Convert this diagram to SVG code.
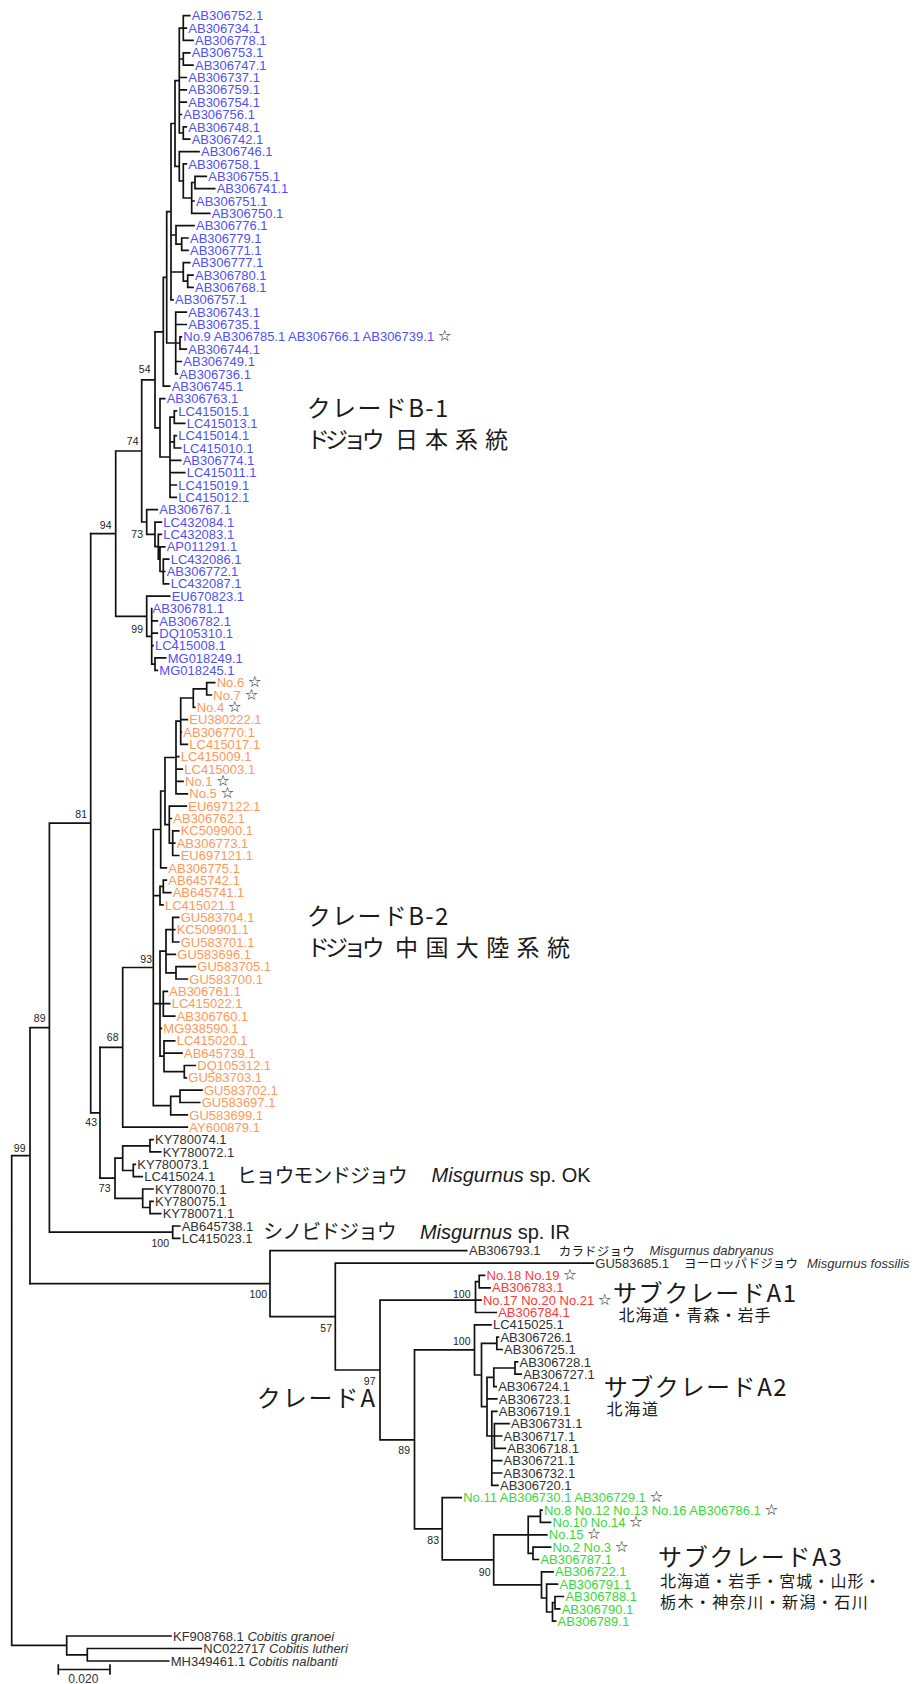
<svg xmlns="http://www.w3.org/2000/svg" width="921" height="1684" viewBox="0 0 921 1684">
<style>
.t{font-family:"Liberation Sans",Arial,sans-serif;font-size:13px}
.b{fill:#5050f5}.o{fill:#ff9858}.r{fill:#ff3838}.g{fill:#38d838}.k{fill:#303030}
.st{font-family:"DejaVu Sans",sans-serif;fill:#222;font-size:15.5px}
.i{font-style:italic}
.bs{font-family:"Liberation Sans",Arial,sans-serif;font-size:10.5px;fill:#222;text-anchor:end}
.j{font-family:"Noto Sans CJK JP","Noto Sans CJK SC",sans-serif;fill:#1a1a1a}
.big{font-family:"Liberation Sans",Arial,sans-serif;font-size:20px;fill:#1a1a1a}
.sc{font-family:"Liberation Sans",Arial,sans-serif;font-size:12px;fill:#303030;text-anchor:middle}
.ln{fill:none;stroke:#111;stroke-width:1.7;stroke-linecap:square}
</style>
<rect width="921" height="1684" fill="#fff"/>
<g id="connectors" class="ln">
<path id="backbone" d="M11.7 1155.7V1645.4M11.7 1645.4H66.7M66.7 1636V1654.8M66.7 1636H171M66.7 1654.8H87.3M87.3 1648.5V1661M87.3 1648.5H201.3M87.3 1661H168.7M11.7 1155.7H30M30 1027.7V1283.7M30 1027.7H49.4M49.4 823.2V1232.2M49.4 1232.2H172.7M172.7 1226V1238.4M172.7 1226H179.7M172.7 1238.4H179.7M49.4 823.2H90.7M90.7 533.7V1112.8M90.7 1112.8H100M100 1047.3V1178.2"/>
<path id="ky" d="M100 1178.2H115M115 1158.2V1198.3M115 1158.2H122.7M122.7 1145.8V1170.5M122.7 1145.8H150M150 1139.6V1151.9M150 1139.6H153M150 1151.9H160.7M122.7 1170.5H133.3M133.3 1164.3V1176.6M133.3 1164.3H135.3M133.3 1176.6H142.3M115 1198.3H142.7M142.7 1189V1207.5M142.7 1189H153M142.7 1207.5H150M150 1201.3V1213.7M150 1201.3H153M150 1213.7H160.7"/>
<path id="b2" d="M100 1047.3H122.7M122.7 967.5V1127.2M122.7 1127.2H187.3M122.7 967.5H153.3M153.3 829.5V1105.6M153.3 829.5H160.7M160.7 791V867.9M160.7 867.9H166.3M160.7 791H165M165 757.5V824.6M165 757.5H176M176 721.2V793.8M176 756.7H178.7M176 769.1H182.3M176 781.4H183M176 793.8H187.3M176 721.2H180.7M180.7 698V744.4M180.7 719.7H187.3M180.7 732H181.3M180.7 744.4H187.3M180.7 698H193.3M193.3 688.8V707.3M193.3 707.3H194.7M193.3 688.8H206.7M206.7 682.6V695M206.7 682.6H214.7M206.7 695H211.3M165 824.6H169.3M169.3 806.1V843.2M169.3 806.1H186.3M169.3 818.5H171.3M169.3 843.2H172.7M172.7 830.8V855.5M172.7 830.8H178.7M172.7 843.2H174.7M172.7 855.5H178.7M153.3 895.6H160M160 886.4V904.9M160 904.9H163M160 886.4H163.3M163.3 880.2V892.6M163.3 880.2H166.3M163.3 892.6H170.7M153.3 1003.7H160M160 951.2V1056.2M160 951.2H166M166 929.6V972.8M166 954.3H175.3M166 929.6H172.7M172.7 917.3V942M172.7 917.3H178.7M172.7 929.6H174.7M172.7 942H178.7M166 972.8H176M176 966.7V979M176 966.7H195.3M176 979H187.3M160 1003.7H163.3M163.3 991.4V1016.1M163.3 991.4H167.3M163.3 1003.7H169.7M163.3 1016.1H174.7M160 1028.4H161.3M160 1056.2H164M164 1040.8V1071.7M164 1040.8H174.7M164 1053.1H182M164 1071.7H184.3M184.3 1065.5V1077.8M184.3 1065.5H195.3M184.3 1077.8H186.3M153.3 1105.6H170.7M170.7 1096.4V1114.9M170.7 1114.9H187.3M170.7 1096.4H180M180 1090.2V1102.5M180 1090.2H202M180 1102.5H199.7"/>
<path id="b1" d="M90.7 533.7H115.7M115.7 451V616.3M115.7 451H141.7M141.7 379.8V522M141.7 379.8H155M155 331.8V427.8M155 331.8H163.3M163.3 277.4V386.2M163.3 386.2H169.7M163.3 277.4H166.7M166.7 211.7V343M166.7 343H175.7M175.7 312.1V373.9M175.7 312.1H186.3M175.7 324.5H186.3M175.7 361.5H181.3M175.7 373.9H177.3M175.7 343H180M180 336.8V349.2M180 336.8H181.3M180 349.2H186.3M166.7 211.7H171M171 123.5V299.8M171 299.8H173M171 235H176M176 225.7V244.2M176 225.7H194M176 244.2H181.7M181.7 238V250.4M181.7 238H188M181.7 250.4H188M171 272H183.3M183.3 262.7V281.2M183.3 262.7H189.7M183.3 281.2H187.7M187.7 275.1V287.4M187.7 275.1H193M187.7 287.4H193M171 123.5H175M175 80.6V166.3M175 80.6H179.3M179.3 28.1V133M179.3 77.5H186.3M179.3 89.8H186.3M179.3 102.2H186.3M179.3 114.5H181.3M179.3 28.1H183.3M183.3 15.7V40.4M183.3 15.7H189.7M183.3 28.1H186.3M183.3 40.4H193M179.3 59H183.3M183.3 52.8V65.1M183.3 52.8H189.7M183.3 65.1H193M179.3 133H183.3M183.3 126.9V139.2M183.3 126.9H186.3M183.3 139.2H189.7M175 166.3H179.3M179.3 151.6V181M179.3 151.6H199M179.3 181H183.3M183.3 163.9V198M183.3 163.9H186.3M183.3 198H191.7M191.7 182.5V213.3M191.7 201H194M191.7 213.3H209.7M191.7 182.5H195M195 176.3V188.6M195 176.3H206.3M195 188.6H214.7M155 427.8H160M160 398.6V457M160 398.6H164.7M160 457H170M170 417.1V497.4M170 460.3H180.7M170 472.7H184.7M170 485H176.3M170 497.4H176.3M170 417.1H174.3M174.3 410.9V423.3M174.3 410.9H176.3M174.3 423.3H184.7M170 441.8H174.3M174.3 435.6V448M174.3 435.6H176.3M174.3 448H180.7M141.7 522H146.7M146.7 509.7V534.4M146.7 509.7H157.3M146.7 534.4H155M155 522.1V546.7M155 522.1H161.3M155 546.7H158.3M158.3 534.4V559.1M158.3 534.4H161.3M158.3 559.1H160M160 546.8V571.5M160 546.8H164.7M160 571.5H164.7M163.3 559.1V583.8M163.3 559.1H168.7M163.3 583.8H168.7M115.7 616.3H146.7M146.7 596.2V636.3M146.7 596.2H169.7M146.7 636.3H151.7M151.7 608.5V664.1M151.7 620.9H157.3M151.7 633.2H157.3M151.7 645.6H153M151.7 664.1H155M155 657.9V670.3M155 657.9H165.7M155 670.3H157.3"/>
<path id="cladeA" d="M30 1283.7H270M270 1250.7V1316.6M270 1250.7H466.7M270 1316.6H335.3M335.3 1263.1V1370M335.3 1263.1H593.3M335.3 1370H380M380 1300.1V1439.8M380 1300.1H475.5M475.5 1281.6V1312.5M475.5 1300.1H481M475.5 1312.5H496.2M475.5 1281.6H479.2M479.2 1275.4V1287.8M479.2 1275.4H484.5M479.2 1287.8H490M380 1439.8H414.5M414.5 1349.9V1528.8M414.5 1349.9H474.5M474.5 1324.8V1375M474.5 1324.8H491M474.5 1375H481.5M481.5 1343.4V1406.7M481.5 1343.4H496.8M496.8 1337.2V1349.5M496.8 1337.2H498.4M496.8 1349.5H502.1M481.5 1406.7H487M487 1377.3V1436M487 1398.9H496.8M487 1377.3H493.8M493.8 1368V1386.6M493.8 1386.6H496.2M493.8 1368H515M515 1361.9V1374.2M515 1361.9H517.5M515 1374.2H521.2M487 1436H491.8M491.8 1411.3V1485.4M491.8 1411.3H496.8M491.8 1460.7H501.6M491.8 1473H501.6M491.8 1485.4H498M491.8 1436H494.4M494.4 1423.6V1448.3M494.4 1423.6H509M494.4 1436H501.6M494.4 1448.3H505.3M414.5 1528.8H442.2M442.2 1497.7V1559.9M442.2 1497.7H461.2M442.2 1559.9H493.7M493.7 1534.8V1584.9M493.7 1534.8H528.2M528.2 1516.3V1553.3M528.2 1534.8H546.8M528.2 1516.3H540.4M540.4 1510.1V1522.4M540.4 1510.1H542M540.4 1522.4H550.5M528.2 1553.3H533M533 1547.1V1559.5M533 1547.1H550.5M533 1559.5H538.4M493.7 1584.9H541.5M541.5 1571.8V1598M541.5 1571.8H553M541.5 1598H546.6M546.6 1584.2V1612M546.6 1584.2H557.5M546.6 1612H552.5M552.5 1602.7V1621.2M552.5 1621.2H555.6M552.5 1602.7H555M555 1596.5V1608.9M555 1596.5H563.4M555 1608.9H559.7"/>
<path id="scalebar" d="M58.3 1669.5H110M58.3 1665V1674M110 1665V1674"/>
</g>
<g id="leaves" class="t">
<g id="L0"><text class="b" x="191.7" y="20.3">AB306752.1</text></g>
<g id="L1"><text class="b" x="188.3" y="32.7">AB306734.1</text></g>
<g id="L2"><text class="b" x="195" y="45">AB306778.1</text></g>
<g id="L3"><text class="b" x="191.7" y="57.4">AB306753.1</text></g>
<g id="L4"><text class="b" x="195" y="69.7">AB306747.1</text></g>
<g id="L5"><text class="b" x="188.3" y="82.1">AB306737.1</text></g>
<g id="L6"><text class="b" x="188.3" y="94.4">AB306759.1</text></g>
<g id="L7"><text class="b" x="188.3" y="106.8">AB306754.1</text></g>
<g id="L8"><text class="b" x="183.3" y="119.1">AB306756.1</text></g>
<g id="L9"><text class="b" x="188.3" y="131.5">AB306748.1</text></g>
<g id="L10"><text class="b" x="191.7" y="143.8">AB306742.1</text></g>
<g id="L11"><text class="b" x="201" y="156.2">AB306746.1</text></g>
<g id="L12"><text class="b" x="188.3" y="168.5">AB306758.1</text></g>
<g id="L13"><text class="b" x="208.3" y="180.9">AB306755.1</text></g>
<g id="L14"><text class="b" x="216.7" y="193.2">AB306741.1</text></g>
<g id="L15"><text class="b" x="196" y="205.6">AB306751.1</text></g>
<g id="L16"><text class="b" x="211.7" y="217.9">AB306750.1</text></g>
<g id="L17"><text class="b" x="196" y="230.3">AB306776.1</text></g>
<g id="L18"><text class="b" x="190" y="242.6">AB306779.1</text></g>
<g id="L19"><text class="b" x="190" y="255">AB306771.1</text></g>
<g id="L20"><text class="b" x="191.7" y="267.3">AB306777.1</text></g>
<g id="L21"><text class="b" x="195" y="279.7">AB306780.1</text></g>
<g id="L22"><text class="b" x="195" y="292">AB306768.1</text></g>
<g id="L23"><text class="b" x="175" y="304.4">AB306757.1</text></g>
<g id="L24"><text class="b" x="188.3" y="316.7">AB306743.1</text></g>
<g id="L25"><text class="b" x="188.3" y="329.1">AB306735.1</text></g>
<g id="L26"><text class="b" x="183.3" y="341.4">No.9 AB306785.1 AB306766.1 AB306739.1 <tspan class="st">☆</tspan></text></g>
<g id="L27"><text class="b" x="188.3" y="353.8">AB306744.1</text></g>
<g id="L28"><text class="b" x="183.3" y="366.1">AB306749.1</text></g>
<g id="L29"><text class="b" x="179.3" y="378.5">AB306736.1</text></g>
<g id="L30"><text class="b" x="171.7" y="390.8">AB306745.1</text></g>
<g id="L31"><text class="b" x="166.7" y="403.2">AB306763.1</text></g>
<g id="L32"><text class="b" x="178.3" y="415.5">LC415015.1</text></g>
<g id="L33"><text class="b" x="186.7" y="427.9">LC415013.1</text></g>
<g id="L34"><text class="b" x="178.3" y="440.2">LC415014.1</text></g>
<g id="L35"><text class="b" x="182.7" y="452.6">LC415010.1</text></g>
<g id="L36"><text class="b" x="182.7" y="464.9">AB306774.1</text></g>
<g id="L37"><text class="b" x="186.7" y="477.3">LC415011.1</text></g>
<g id="L38"><text class="b" x="178.3" y="489.6">LC415019.1</text></g>
<g id="L39"><text class="b" x="178.3" y="502">LC415012.1</text></g>
<g id="L40"><text class="b" x="159.3" y="514.3">AB306767.1</text></g>
<g id="L41"><text class="b" x="163.3" y="526.7">LC432084.1</text></g>
<g id="L42"><text class="b" x="163.3" y="539">LC432083.1</text></g>
<g id="L43"><text class="b" x="166.7" y="551.4">AP011291.1</text></g>
<g id="L44"><text class="b" x="170.7" y="563.7">LC432086.1</text></g>
<g id="L45"><text class="b" x="166.7" y="576.1">AB306772.1</text></g>
<g id="L46"><text class="b" x="170.7" y="588.4">LC432087.1</text></g>
<g id="L47"><text class="b" x="171.7" y="600.8">EU670823.1</text></g>
<g id="L48"><text class="b" x="152.5" y="613.1">AB306781.1</text></g>
<g id="L49"><text class="b" x="159.3" y="625.5">AB306782.1</text></g>
<g id="L50"><text class="b" x="159.3" y="637.8">DQ105310.1</text></g>
<g id="L51"><text class="b" x="155" y="650.2">LC415008.1</text></g>
<g id="L52"><text class="b" x="167.7" y="662.5">MG018249.1</text></g>
<g id="L53"><text class="b" x="159.3" y="674.9">MG018245.1</text></g>
<g id="L54"><text class="o" x="216.7" y="687.2">No.6 <tspan class="st">☆</tspan></text></g>
<g id="L55"><text class="o" x="213.3" y="699.6">No.7 <tspan class="st">☆</tspan></text></g>
<g id="L56"><text class="o" x="196.7" y="711.9">No.4 <tspan class="st">☆</tspan></text></g>
<g id="L57"><text class="o" x="189.3" y="724.3">EU380222.1</text></g>
<g id="L58"><text class="o" x="183.3" y="736.6">AB306770.1</text></g>
<g id="L59"><text class="o" x="189.3" y="749">LC415017.1</text></g>
<g id="L60"><text class="o" x="180.7" y="761.3">LC415009.1</text></g>
<g id="L61"><text class="o" x="184.3" y="773.7">LC415003.1</text></g>
<g id="L62"><text class="o" x="185" y="786">No.1 <tspan class="st">☆</tspan></text></g>
<g id="L63"><text class="o" x="189.3" y="798.4">No.5 <tspan class="st">☆</tspan></text></g>
<g id="L64"><text class="o" x="188.3" y="810.7">EU697122.1</text></g>
<g id="L65"><text class="o" x="173.3" y="823.1">AB306762.1</text></g>
<g id="L66"><text class="o" x="180.7" y="835.4">KC509900.1</text></g>
<g id="L67"><text class="o" x="176.7" y="847.8">AB306773.1</text></g>
<g id="L68"><text class="o" x="180.7" y="860.1">EU697121.1</text></g>
<g id="L69"><text class="o" x="168.3" y="872.5">AB306775.1</text></g>
<g id="L70"><text class="o" x="168.3" y="884.8">AB645742.1</text></g>
<g id="L71"><text class="o" x="172.7" y="897.2">AB645741.1</text></g>
<g id="L72"><text class="o" x="165" y="909.5">LC415021.1</text></g>
<g id="L73"><text class="o" x="180.7" y="921.9">GU583704.1</text></g>
<g id="L74"><text class="o" x="176.7" y="934.2">KC509901.1</text></g>
<g id="L75"><text class="o" x="180.7" y="946.6">GU583701.1</text></g>
<g id="L76"><text class="o" x="177.3" y="958.9">GU583696.1</text></g>
<g id="L77"><text class="o" x="197.3" y="971.3">GU583705.1</text></g>
<g id="L78"><text class="o" x="189.3" y="983.6">GU583700.1</text></g>
<g id="L79"><text class="o" x="169.3" y="996">AB306761.1</text></g>
<g id="L80"><text class="o" x="171.7" y="1008.3">LC415022.1</text></g>
<g id="L81"><text class="o" x="176.7" y="1020.7">AB306760.1</text></g>
<g id="L82"><text class="o" x="163.3" y="1033">MG938590.1</text></g>
<g id="L83"><text class="o" x="176.7" y="1045.4">LC415020.1</text></g>
<g id="L84"><text class="o" x="184" y="1057.7">AB645739.1</text></g>
<g id="L85"><text class="o" x="197.3" y="1070.1">DQ105312.1</text></g>
<g id="L86"><text class="o" x="188.3" y="1082.4">GU583703.1</text></g>
<g id="L87"><text class="o" x="204" y="1094.8">GU583702.1</text></g>
<g id="L88"><text class="o" x="201.7" y="1107.1">GU583697.1</text></g>
<g id="L89"><text class="o" x="189.3" y="1119.5">GU583699.1</text></g>
<g id="L90"><text class="o" x="189.3" y="1131.8">AY600879.1</text></g>
<g id="L91"><text class="k" x="155" y="1144.2">KY780074.1</text></g>
<g id="L92"><text class="k" x="162.7" y="1156.5">KY780072.1</text></g>
<g id="L93"><text class="k" x="137.3" y="1168.9">KY780073.1</text></g>
<g id="L94"><text class="k" x="144.3" y="1181.2">LC415024.1</text></g>
<g id="L95"><text class="k" x="155" y="1193.6">KY780070.1</text></g>
<g id="L96"><text class="k" x="155" y="1205.9">KY780075.1</text></g>
<g id="L97"><text class="k" x="162.7" y="1218.3">KY780071.1</text></g>
<g id="L98"><text class="k" x="181.7" y="1230.6">AB645738.1</text></g>
<g id="L99"><text class="k" x="181.7" y="1243">LC415023.1</text></g>
<g id="L100"><text class="k" x="469" y="1255.3">AB306793.1</text><text class="j" x="558.7" y="1255.5" style="font-size:12.5px" textLength="76" lengthAdjust="spacing">カラドジョウ</text><text class="k i" x="649.5" y="1255.3">Misgurnus dabryanus</text></g>
<g id="L101"><text class="k" x="595.3" y="1267.7">GU583685.1</text><text class="j" x="684" y="1267.9" style="font-size:12.5px" textLength="114" lengthAdjust="spacing">ヨーロッパドジョウ</text><text class="k i" x="807" y="1267.7">Misgurnus fossilis</text></g>
<g id="L102"><text class="r" x="486.5" y="1280">No.18 No.19 <tspan class="st">☆</tspan></text></g>
<g id="L103"><text class="r" x="492" y="1292.4">AB306783.1</text></g>
<g id="L104"><text class="r" x="482.9" y="1304.7">No.17 No.20 No.21 <tspan class="st">☆</tspan></text></g>
<g id="L105"><text class="r" x="498.2" y="1317.1">AB306784.1</text></g>
<g id="L106"><text class="k" x="493" y="1329.4">LC415025.1</text></g>
<g id="L107"><text class="k" x="500.4" y="1341.8">AB306726.1</text></g>
<g id="L108"><text class="k" x="504.1" y="1354.1">AB306725.1</text></g>
<g id="L109"><text class="k" x="519.5" y="1366.5">AB306728.1</text></g>
<g id="L110"><text class="k" x="523.2" y="1378.8">AB306727.1</text></g>
<g id="L111"><text class="k" x="498.2" y="1391.2">AB306724.1</text></g>
<g id="L112"><text class="k" x="498.8" y="1403.5">AB306723.1</text></g>
<g id="L113"><text class="k" x="498.8" y="1415.9">AB306719.1</text></g>
<g id="L114"><text class="k" x="511" y="1428.2">AB306731.1</text></g>
<g id="L115"><text class="k" x="503.6" y="1440.6">AB306717.1</text></g>
<g id="L116"><text class="k" x="507.3" y="1452.9">AB306718.1</text></g>
<g id="L117"><text class="k" x="503.6" y="1465.3">AB306721.1</text></g>
<g id="L118"><text class="k" x="503.6" y="1477.6">AB306732.1</text></g>
<g id="L119"><text class="k" x="500" y="1490">AB306720.1</text></g>
<g id="L120"><text class="g" x="463.2" y="1502.3">No.11 AB306730.1 AB306729.1 <tspan class="st">☆</tspan></text></g>
<g id="L121"><text class="g" x="544" y="1514.7">No.8 No.12 No.13 No.16 AB306786.1 <tspan class="st">☆</tspan></text></g>
<g id="L122"><text class="g" x="552.5" y="1527">No.10 No.14 <tspan class="st">☆</tspan></text></g>
<g id="L123"><text class="g" x="548.8" y="1539.4">No.15 <tspan class="st">☆</tspan></text></g>
<g id="L124"><text class="g" x="552.5" y="1551.7">No.2 No.3 <tspan class="st">☆</tspan></text></g>
<g id="L125"><text class="g" x="540.4" y="1564.1">AB306787.1</text></g>
<g id="L126"><text class="g" x="555" y="1576.4">AB306722.1</text></g>
<g id="L127"><text class="g" x="559.5" y="1588.8">AB306791.1</text></g>
<g id="L128"><text class="g" x="565.4" y="1601.1">AB306788.1</text></g>
<g id="L129"><text class="g" x="561.7" y="1613.5">AB306790.1</text></g>
<g id="L130"><text class="g" x="557.6" y="1625.8">AB306789.1</text></g>
<g id="L131"><text class="k" x="173" y="1640.6">KF908768.1 <tspan class="i">Cobitis granoei</tspan></text></g>
<g id="L132"><text class="k" x="203.3" y="1653.1">NC022717 <tspan class="i">Cobitis lutheri</tspan></text></g>
<g id="L133"><text class="k" x="170.7" y="1665.6">MH349461.1 <tspan class="i">Cobitis nalbanti</tspan></text></g>
</g>
<g id="support" class="bs">
<text x="25.5" y="1152">99</text>
<text x="45.5" y="1022">89</text>
<text x="87" y="817.5">81</text>
<text x="111.5" y="528.5">94</text>
<text x="138.5" y="444.5">74</text>
<text x="150.5" y="373">54</text>
<text x="143" y="537.5">73</text>
<text x="143" y="633">99</text>
<text x="152" y="962.5">93</text>
<text x="118.5" y="1041">68</text>
<text x="97" y="1125.5">43</text>
<text x="110.5" y="1191.5">73</text>
<text x="169" y="1247">100</text>
<text x="267" y="1298">100</text>
<text x="332" y="1331.5">57</text>
<text x="375.5" y="1385">97</text>
<text x="470.5" y="1297.5">100</text>
<text x="470.5" y="1345">100</text>
<text x="410" y="1454">89</text>
<text x="439" y="1544">83</text>
<text x="490.5" y="1576">90</text>
</g>
<g id="labels">
<g id="label-B1"><text class="j" x="306.7" y="417.3" style="font-size:24px" textLength="141.7" lengthAdjust="spacing">クレードB-1</text><text class="j" x="306.7" y="448" style="font-size:23px" textLength="78" lengthAdjust="spacing">ドジョウ</text><text class="j" x="395" y="448" style="font-size:23px" textLength="113" lengthAdjust="spacing">日本系統</text></g>
<g id="label-B2"><text class="j" x="306.7" y="925.3" style="font-size:24px" textLength="141.7" lengthAdjust="spacing">クレードB-2</text><text class="j" x="306.7" y="955.7" style="font-size:23px" textLength="78" lengthAdjust="spacing">ドジョウ</text><text class="j" x="395" y="955.7" style="font-size:23px" textLength="175" lengthAdjust="spacing">中国大陸系統</text></g>
<g id="label-OK"><text class="j" x="236.7" y="1182.5" style="font-size:20px" textLength="171" lengthAdjust="spacing">ヒョウモンドジョウ</text><text class="big" x="431.6" y="1182.2"><tspan class="i">Misgurnus</tspan> sp. OK</text></g>
<g id="label-IR"><text class="j" x="263.3" y="1239.2" style="font-size:20px" textLength="133.5" lengthAdjust="spacing">シノビドジョウ</text><text class="big" x="419.9" y="1239.2"><tspan class="i">Misgurnus</tspan> sp. IR</text></g>
<g id="label-A"><text class="j" x="256.7" y="1407.3" style="font-size:24px" textLength="118.3" lengthAdjust="spacing">クレードA</text></g>
<g id="label-A1"><text class="j" x="613" y="1302.3" style="font-size:24px" textLength="183" lengthAdjust="spacing">サブクレードA1</text><text class="j" x="618.4" y="1321" style="font-size:16px" textLength="152" lengthAdjust="spacing">北海道・青森・岩手</text></g>
<g id="label-A2"><text class="j" x="603.7" y="1395.7" style="font-size:24px" textLength="183" lengthAdjust="spacing">サブクレードA2</text><text class="j" x="606.5" y="1415.3" style="font-size:16px" textLength="51.5" lengthAdjust="spacing">北海道</text></g>
<g id="label-A3"><text class="j" x="658" y="1566.3" style="font-size:24px" textLength="183.8" lengthAdjust="spacing">サブクレードA3</text><text class="j" x="660" y="1586.7" style="font-size:16px" textLength="220.5" lengthAdjust="spacing">北海道・岩手・宮城・山形・</text><text class="j" x="660" y="1607.7" style="font-size:16px" textLength="207.7" lengthAdjust="spacing">栃木・神奈川・新潟・石川</text></g>
<g id="scale"><text class="sc" x="83.3" y="1682.5">0.020</text></g>
</g>
</svg>
